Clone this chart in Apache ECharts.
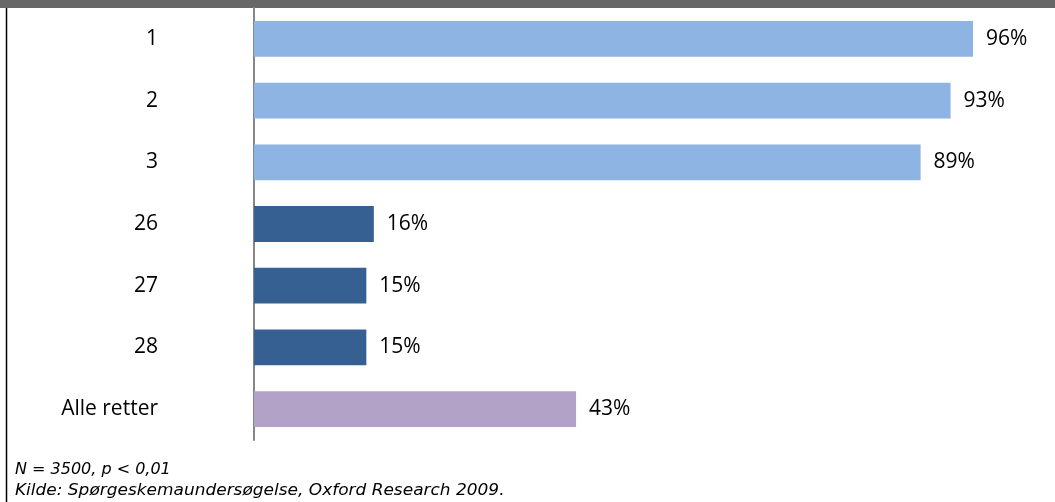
<!DOCTYPE html>
<html>
<head>
<meta charset="utf-8">
<script src="https://cdn.jsdelivr.net/npm/echarts@6/dist/echarts.min.js"></script>
<style>
  html, body { margin: 0; padding: 0; background: #fff; }
  #chart { width: 1055px; height: 502px; }
</style>
</head>
<body>
<div id="chart"></div>
<script>
// Share of respondents per dish, top three, bottom three and all dishes
const categories = ['1', '2', '3', '26', '27', '28', 'Alle retter'];
const values = [96, 93, 89, 16, 15, 15, 43];
const groups = ['top', 'top', 'top', 'bottom', 'bottom', 'bottom', 'all'];
const groupColors = { top: '#8EB4E3', bottom: '#366092', all: '#B3A2C7' };
const footnotes = ['N = 3500, p < 0,01', 'Kilde: Spørgeskemaundersøgelse, Oxford Research 2009.'];

const chart = echarts.init(document.getElementById('chart'), null, { renderer: 'canvas' });

const labelFont = '"Open Sans", "Noto Sans", sans-serif';

chart.setOption({
  animation: false,
  grid: { left: 254, right: 52, top: 8, bottom: 62, containLabel: false },
  xAxis: {
    type: 'value',
    min: 0,
    max: 100,
    show: false
  },
  yAxis: {
    type: 'category',
    inverse: true,
    data: categories,
    axisLine: { show: true, lineStyle: { color: '#868686', width: 2 } },
    axisTick: { show: false },
    axisLabel: {
      margin: 96,
      align: 'right',
      color: '#000',
      fontFamily: labelFont,
      fontSize: 21
    }
  },
  series: [{
    type: 'bar',
    barWidth: '58%',
    data: values.map((v, i) => ({ value: v, itemStyle: { color: groupColors[groups[i]] } })),
    label: {
      show: true,
      position: 'right',
      distance: 13,
      formatter: p => p.value + '%',
      color: '#000',
      fontFamily: labelFont,
      fontSize: 21
    }
  }],
  graphic: [
    { type: 'rect', left: 0, top: 0, shape: { width: 1055, height: 8 }, style: { fill: '#676767' }, silent: true },
    { type: 'line', shape: { x1: 6.5, y1: 8, x2: 6.5, y2: 502 }, style: { stroke: '#000', lineWidth: 1.5 }, silent: true },
    { type: 'text', left: 15, top: 462, style: { text: footnotes[0], font: 'italic 16px "DejaVu Sans"', fill: '#000' } },
    { type: 'text', left: 15, top: 483, scaleX: 1.06, style: { text: footnotes[1], font: 'italic 16px "DejaVu Sans"', fill: '#000' } }
  ]
});
</script>
</body>
</html>
